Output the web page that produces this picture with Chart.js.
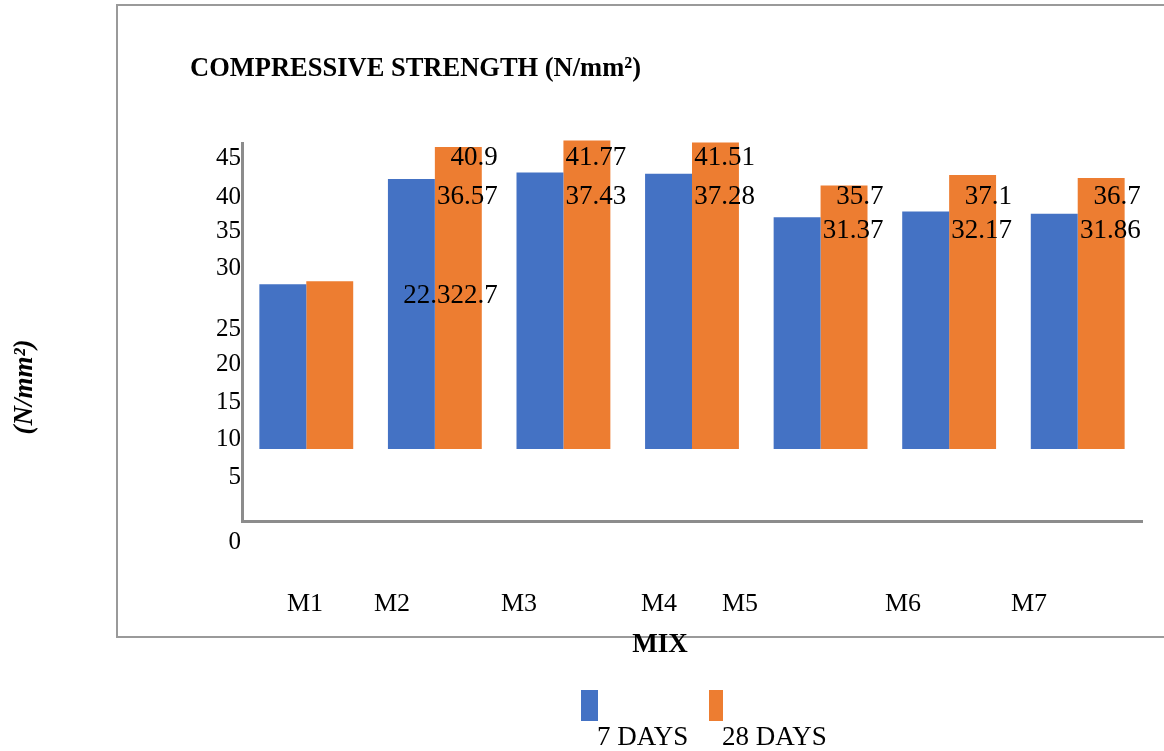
<!DOCTYPE html>
<html>
<head>
<meta charset="utf-8">
<script src="https://cdn.jsdelivr.net/npm/chart.js@4.4.0/dist/chart.umd.min.js"></script>
<style>
  html, body { margin: 0; padding: 0; background: #fff; }
  canvas { display: block; }
</style>
</head>
<body>
<canvas id="chart" width="1164" height="751"></canvas>
<script>
// Compressive strength (N/mm²) per mix at 7 and 28 days
const mixes = ['M1', 'M2', 'M3', 'M4', 'M5', 'M6', 'M7'];
const days7 = [22.3, 36.57, 37.43, 37.28, 31.37, 32.17, 31.86];
const days28 = [22.7, 40.9, 41.77, 41.51, 35.7, 37.1, 36.7];
const yTickLabels = ['45', '40', '35', '30', '25', '20', '15', '10', '5', '0'];
const seriesNames = ['7 DAYS', '28 DAYS'];

const BLUE = '#4472C4';
const ORANGE = '#ED7D31';
const SERIF = '"Liberation Serif", "Times New Roman", serif';

// the source picture has its axis text shifted off the scale, so keep its rows/cols
const Y_LABEL_ROWS = [158, 197, 231, 268, 329, 364, 402, 439, 477, 542];
const X_LABEL_COLS = [305, 392, 519, 659, 740, 903, 1029];

// value labels sit on the first text row below the bar top
const rowBelow = top => Y_LABEL_ROWS.find(r => r >= top + 10);

const sheetPlugin = {
    id: 'sheet',
    beforeDraw(chart) {
        const ctx = chart.ctx;
        ctx.save();
        ctx.fillStyle = '#fff';
        ctx.fillRect(0, 0, chart.width, chart.height);
        // outer frame (left, top, bottom)
        ctx.strokeStyle = '#9a9a9a';
        ctx.lineWidth = 2;
        ctx.beginPath();
        ctx.moveTo(chart.width, 5);
        ctx.lineTo(117, 5);
        ctx.lineTo(117, 637);
        ctx.lineTo(chart.width, 637);
        ctx.stroke();
        ctx.restore();
    },
    afterDraw(chart) {
        const ctx = chart.ctx;
        ctx.save();
        ctx.fillStyle = '#000';

        // title
        ctx.font = `bold 28px ${SERIF}`;
        ctx.textAlign = 'left';
        ctx.textBaseline = 'middle';
        ctx.fillText('COMPRESSIVE STRENGTH (N/mm²)', 190, 69, 451);

        // y tick labels
        ctx.font = `25px ${SERIF}`;
        ctx.textAlign = 'right';
        yTickLabels.forEach((t, i) => ctx.fillText(t, 241, Y_LABEL_ROWS[i]));

        // x category labels
        ctx.font = `26px ${SERIF}`;
        ctx.textAlign = 'center';
        mixes.forEach((m, i) => ctx.fillText(m, X_LABEL_COLS[i], 604));

        // x title
        ctx.font = `bold 27px ${SERIF}`;
        ctx.fillText('MIX', 660, 645);

        // y title
        ctx.save();
        ctx.translate(25, 387);
        ctx.rotate(-Math.PI / 2);
        ctx.font = `italic bold 27px ${SERIF}`;
        ctx.fillText('(N/mm²)', 0, 0);
        ctx.restore();

        // legend
        ctx.fillStyle = BLUE;
        ctx.fillRect(581, 690, 17, 31);
        ctx.fillStyle = ORANGE;
        ctx.fillRect(709, 690, 14, 31);
        ctx.fillStyle = '#000';
        ctx.font = `27px ${SERIF}`;
        ctx.textAlign = 'left';
        ctx.fillText(seriesNames[0], 597, 738);
        ctx.fillText(seriesNames[1], 722, 738);

        // value labels, right-aligned just past the orange bar
        const blueBars = chart.getDatasetMeta(0).data;
        const orangeBars = chart.getDatasetMeta(1).data;
        ctx.font = `27px ${SERIF}`;
        ctx.textAlign = 'right';
        orangeBars.forEach((bar, i) => {
            if (i === 0) {
                // M1 labels ended up run together next to M2
                const next = orangeBars[1];
                ctx.fillText(`${days7[0]}${days28[0]}`, next.x + next.width / 2 + 16, bar.y + 15);
                return;
            }
            const right = bar.x + bar.width / 2 + 16;
            ctx.fillText(String(days28[i]), right, rowBelow(bar.y));
            ctx.fillText(String(days7[i]), right, rowBelow(blueBars[i].y));
        });
        ctx.restore();
    }
};

const ctx = document.getElementById('chart').getContext('2d');
new Chart(ctx, {
    type: 'bar',
    data: {
        labels: mixes,
        datasets: [
            {
                label: seriesNames[0],
                data: days7,
                backgroundColor: BLUE,
                barPercentage: 1,
                categoryPercentage: 0.73,
                clip: false
            },
            {
                label: seriesNames[1],
                data: days28,
                backgroundColor: ORANGE,
                barPercentage: 1,
                categoryPercentage: 0.73,
                clip: false
            }
        ]
    },
    options: {
        responsive: false,
        animation: false,
        layout: {
            padding: { left: 242, top: 143, right: 22, bottom: 230 }
        },
        scales: {
            x: {
                grid: { display: false },
                ticks: { display: false },
                border: { display: true, color: '#8c8c8c', width: 3 },
                afterFit: scale => { scale.height = 0; }
            },
            y: {
                min: -9.76,
                max: 41.44,
                grid: { display: false },
                ticks: { display: false },
                border: { display: true, color: '#8c8c8c', width: 3 },
                afterFit: scale => { scale.width = 0; }
            }
        },
        plugins: {
            legend: { display: false },
            title: { display: false },
            tooltip: { enabled: false }
        }
    },
    plugins: [sheetPlugin]
});
</script>
</body>
</html>
